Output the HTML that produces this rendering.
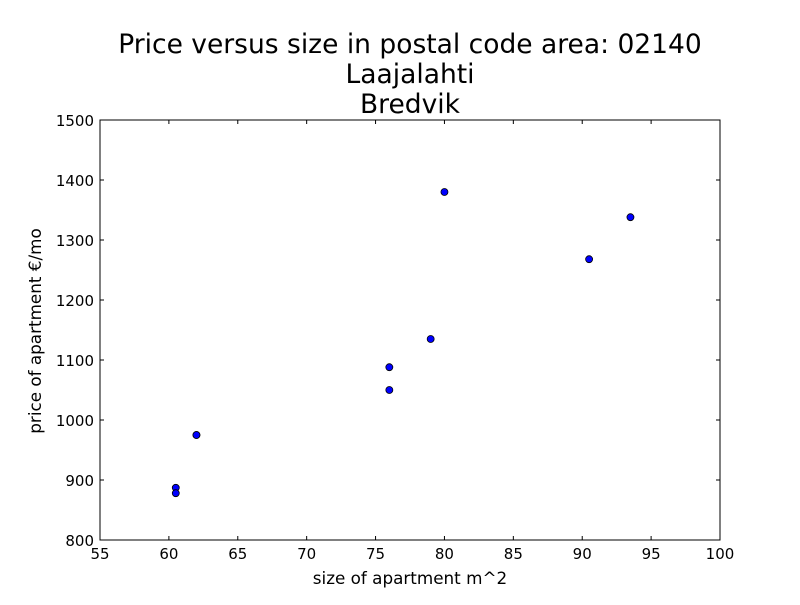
<!DOCTYPE html>
<html><head><meta charset="utf-8"><style>
body{margin:0;background:#fff;}
svg text{font-family:"DejaVu Sans","Liberation Sans",sans-serif;}
</style></head><body>
<svg id="chart" width="800" height="600">
<rect width="800" height="600" fill="#fff"/>
<text x="410" y="53" font-size="26.5" text-anchor="middle">Price versus size in postal code area: 02140</text>
<text x="410" y="83" font-size="26.5" text-anchor="middle">Laajalahti</text>
<text x="410" y="113" font-size="26.5" text-anchor="middle">Bredvik</text>
<g id="ticks"></g>
<g id="points"></g>
<rect x="100" y="120" width="620" height="420" fill="none" stroke="#000" stroke-width="1"/>
<text x="410" y="584" font-size="16.8" text-anchor="middle">size of apartment m^2</text>
<text x="41" y="331" font-size="16.8" text-anchor="middle" transform="rotate(-90 41 331)">price of apartment €/mo</text>
</svg>
<script>
const xTicks=[55,60,65,70,75,80,85,90,95,100];
const yTicks=[800,900,1000,1100,1200,1300,1400,1500];
const sizes=[60.5,60.5,62,62,76,76,79,80,90.5,93.5];
const prices=[887,878,975,975,1088,1050,1135,1380,1268,1338];
const L=100,R=720,T=120,B=540;
const sx=v=>L+(v-55)/45*(R-L);
const sy=v=>B-(v-800)/700*(B-T);
const NS='http://www.w3.org/2000/svg';
const tg=document.getElementById('ticks'),pg=document.getElementById('points');
function mk(tag,attrs,parent){const e=document.createElementNS(NS,tag);for(const k in attrs)e.setAttribute(k,attrs[k]);parent.appendChild(e);return e;}
xTicks.forEach(v=>{const x=sx(v);
mk('line',{x1:x,x2:x,y1:B,y2:B-4,stroke:'#000'},tg);mk('line',{x1:x,x2:x,y1:T,y2:T+4,stroke:'#000'},tg);
const t=mk('text',{x:x,y:B+19,'font-size':15,'text-anchor':'middle'},tg);t.textContent=v;

});
yTicks.forEach(v=>{const y=sy(v);
mk('line',{x1:L,x2:L+4,y1:y,y2:y,stroke:'#000'},tg);mk('line',{x1:R,x2:R-4,y1:y,y2:y,stroke:'#000'},tg);
const t=mk('text',{x:L-6,y:y+6,'font-size':15,'text-anchor':'end'},tg);t.textContent=v;

});
sizes.forEach((s,i)=>{const c=mk('circle',{cx:sx(s),cy:sy(prices[i]),r:3.5,fill:'#0000ff',stroke:'#000','stroke-width':0.8},pg);

});
</script>
</body></html>
